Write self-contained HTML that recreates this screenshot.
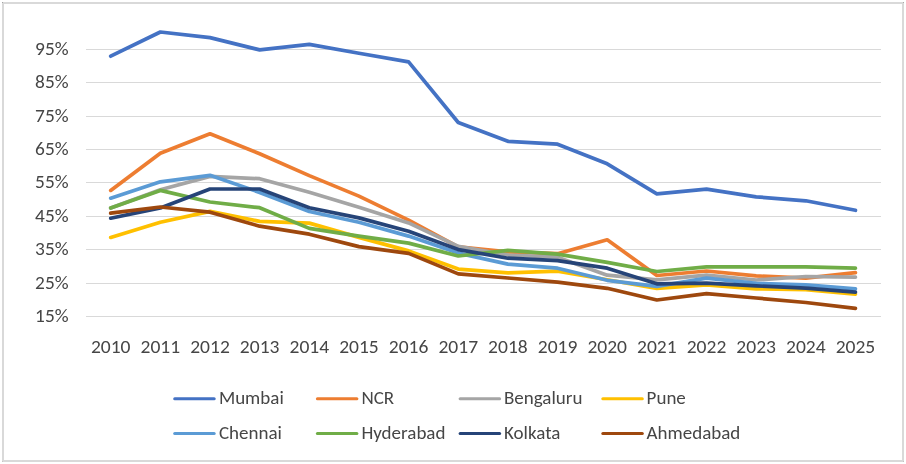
<!DOCTYPE html>
<html><head><meta charset="utf-8"><title>Chart</title>
<style>
html,body{margin:0;padding:0;background:#fff;}
svg{display:block;will-change:transform;}
text{font-family:Carlito, 'Liberation Sans', sans-serif;font-size:19px;fill:#464646;}
</style></head>
<body>
<svg width="906" height="464" viewBox="0 0 906 464">
<rect x="3" y="3" width="900" height="458" fill="#fff" stroke="#d9d9d9" stroke-width="2"/>
<rect x="2" y="2" width="1" height="1" fill="#a3a3a3"/>
<rect x="903" y="2" width="1" height="1" fill="#a8a8a8"/>
<rect x="2" y="461" width="1" height="1" fill="#c6c6c6"/>
<rect x="903" y="461" width="1" height="1" fill="#c2c2c2"/>
<line x1="86" y1="49.5" x2="881" y2="49.5" stroke="#d9d9d9" stroke-width="1"/>
<line x1="86" y1="82.5" x2="881" y2="82.5" stroke="#d9d9d9" stroke-width="1"/>
<line x1="86" y1="116.5" x2="881" y2="116.5" stroke="#d9d9d9" stroke-width="1"/>
<line x1="86" y1="149.5" x2="881" y2="149.5" stroke="#d9d9d9" stroke-width="1"/>
<line x1="86" y1="182.5" x2="881" y2="182.5" stroke="#d9d9d9" stroke-width="1"/>
<line x1="86" y1="216.5" x2="881" y2="216.5" stroke="#d9d9d9" stroke-width="1"/>
<line x1="86" y1="249.5" x2="881" y2="249.5" stroke="#d9d9d9" stroke-width="1"/>
<line x1="86" y1="283.5" x2="881" y2="283.5" stroke="#d9d9d9" stroke-width="1"/>
<line x1="86" y1="316.5" x2="881" y2="316.5" stroke="#d9d9d9" stroke-width="1"/>
<text transform="translate(68.6,55) scale(1.02,1)" text-anchor="end" textLength="32.84" lengthAdjust="spacingAndGlyphs">95%</text>
<text transform="translate(68.6,88) scale(1.02,1)" text-anchor="end" textLength="32.84" lengthAdjust="spacingAndGlyphs">85%</text>
<text transform="translate(68.6,122) scale(1.02,1)" text-anchor="end" textLength="32.84" lengthAdjust="spacingAndGlyphs">75%</text>
<text transform="translate(68.6,155) scale(1.02,1)" text-anchor="end" textLength="32.84" lengthAdjust="spacingAndGlyphs">65%</text>
<text transform="translate(68.6,188) scale(1.02,1)" text-anchor="end" textLength="32.84" lengthAdjust="spacingAndGlyphs">55%</text>
<text transform="translate(68.6,222) scale(1.02,1)" text-anchor="end" textLength="32.84" lengthAdjust="spacingAndGlyphs">45%</text>
<text transform="translate(68.6,255) scale(1.02,1)" text-anchor="end" textLength="32.84" lengthAdjust="spacingAndGlyphs">35%</text>
<text transform="translate(68.6,289) scale(1.02,1)" text-anchor="end" textLength="32.84" lengthAdjust="spacingAndGlyphs">25%</text>
<text transform="translate(68.6,322) scale(1.02,1)" text-anchor="end" textLength="32.84" lengthAdjust="spacingAndGlyphs">15%</text>
<text transform="translate(110.70,353) scale(1.03,1)" text-anchor="middle" textLength="38.48" lengthAdjust="spacingAndGlyphs">2010</text>
<text transform="translate(160.35,353) scale(1.03,1)" text-anchor="middle" textLength="38.48" lengthAdjust="spacingAndGlyphs">2011</text>
<text transform="translate(210.00,353) scale(1.03,1)" text-anchor="middle" textLength="38.48" lengthAdjust="spacingAndGlyphs">2012</text>
<text transform="translate(259.65,353) scale(1.03,1)" text-anchor="middle" textLength="38.48" lengthAdjust="spacingAndGlyphs">2013</text>
<text transform="translate(309.30,353) scale(1.03,1)" text-anchor="middle" textLength="38.48" lengthAdjust="spacingAndGlyphs">2014</text>
<text transform="translate(358.95,353) scale(1.03,1)" text-anchor="middle" textLength="38.48" lengthAdjust="spacingAndGlyphs">2015</text>
<text transform="translate(408.60,353) scale(1.03,1)" text-anchor="middle" textLength="38.48" lengthAdjust="spacingAndGlyphs">2016</text>
<text transform="translate(458.25,353) scale(1.03,1)" text-anchor="middle" textLength="38.48" lengthAdjust="spacingAndGlyphs">2017</text>
<text transform="translate(507.90,353) scale(1.03,1)" text-anchor="middle" textLength="38.48" lengthAdjust="spacingAndGlyphs">2018</text>
<text transform="translate(557.55,353) scale(1.03,1)" text-anchor="middle" textLength="38.48" lengthAdjust="spacingAndGlyphs">2019</text>
<text transform="translate(607.20,353) scale(1.03,1)" text-anchor="middle" textLength="38.48" lengthAdjust="spacingAndGlyphs">2020</text>
<text transform="translate(656.85,353) scale(1.03,1)" text-anchor="middle" textLength="38.48" lengthAdjust="spacingAndGlyphs">2021</text>
<text transform="translate(706.50,353) scale(1.03,1)" text-anchor="middle" textLength="38.48" lengthAdjust="spacingAndGlyphs">2022</text>
<text transform="translate(756.15,353) scale(1.03,1)" text-anchor="middle" textLength="38.48" lengthAdjust="spacingAndGlyphs">2023</text>
<text transform="translate(805.80,353) scale(1.03,1)" text-anchor="middle" textLength="38.48" lengthAdjust="spacingAndGlyphs">2024</text>
<text transform="translate(855.45,353) scale(1.03,1)" text-anchor="middle" textLength="38.48" lengthAdjust="spacingAndGlyphs">2025</text>
<polyline points="110.70,56.20 160.35,32.00 210.00,37.60 259.65,49.90 309.30,44.40 358.95,53.20 408.60,61.90 458.25,122.50 507.90,141.30 557.55,144.20 607.20,163.80 656.85,193.80 706.50,189.10 756.15,196.80 805.80,200.80 855.45,210.30" fill="none" stroke="#4472C4" stroke-width="3.7" stroke-linejoin="round" stroke-linecap="round"/>
<polyline points="110.70,190.40 160.35,153.30 210.00,133.80 259.65,153.80 309.30,175.60 358.95,196.10 408.60,220.10 458.25,246.90 507.90,251.90 557.55,253.70 607.20,239.80 656.85,275.50 706.50,271.00 756.15,275.90 805.80,278.10 855.45,272.70" fill="none" stroke="#ED7D31" stroke-width="3.7" stroke-linejoin="round" stroke-linecap="round"/>
<polyline points="110.70,208.00 160.35,189.70 210.00,176.40 259.65,178.70 309.30,192.30 358.95,207.20 408.60,222.90 458.25,246.40 507.90,255.00 557.55,257.20 607.20,275.20 656.85,279.80 706.50,275.20 756.15,280.00 805.80,276.50 855.45,277.20" fill="none" stroke="#A5A5A5" stroke-width="3.7" stroke-linejoin="round" stroke-linecap="round"/>
<polyline points="110.70,237.40 160.35,222.30 210.00,211.40 259.65,221.40 309.30,223.10 358.95,237.40 408.60,250.90 458.25,269.10 507.90,272.90 557.55,271.10 607.20,279.80 656.85,288.40 706.50,284.80 756.15,288.80 805.80,289.70 855.45,294.20" fill="none" stroke="#FFC000" stroke-width="3.7" stroke-linejoin="round" stroke-linecap="round"/>
<polyline points="110.70,198.20 160.35,181.80 210.00,175.30 259.65,192.40 309.30,211.50 358.95,222.20 408.60,236.10 458.25,253.10 507.90,264.10 557.55,268.20 607.20,280.30 656.85,286.40 706.50,278.10 756.15,283.40 805.80,284.80 855.45,288.90" fill="none" stroke="#5B9BD5" stroke-width="3.7" stroke-linejoin="round" stroke-linecap="round"/>
<polyline points="110.70,208.00 160.35,190.40 210.00,202.00 259.65,207.70 309.30,228.40 358.95,236.10 408.60,243.10 458.25,256.00 507.90,250.40 557.55,254.10 607.20,262.30 656.85,271.50 706.50,266.90 756.15,266.90 805.80,266.90 855.45,268.20" fill="none" stroke="#70AD47" stroke-width="3.7" stroke-linejoin="round" stroke-linecap="round"/>
<polyline points="110.70,218.20 160.35,207.90 210.00,189.00 259.65,189.00 309.30,207.70 358.95,217.90 408.60,231.20 458.25,249.60 507.90,258.20 557.55,260.70 607.20,268.20 656.85,283.80 706.50,283.10 756.15,285.90 805.80,288.10 855.45,292.20" fill="none" stroke="#264478" stroke-width="3.7" stroke-linejoin="round" stroke-linecap="round"/>
<polyline points="110.70,213.20 160.35,207.00 210.00,212.20 259.65,226.20 309.30,234.20 358.95,246.60 408.60,253.40 458.25,273.90 507.90,278.00 557.55,282.10 607.20,288.30 656.85,300.00 706.50,293.70 756.15,298.00 805.80,302.50 855.45,308.30" fill="none" stroke="#9E480E" stroke-width="3.7" stroke-linejoin="round" stroke-linecap="round"/>
<line x1="174.7" y1="398.7" x2="214.2" y2="398.7" stroke="#4472C4" stroke-width="3" stroke-linecap="round"/>
<text x="218.9" y="404.0" textLength="64.86" lengthAdjust="spacingAndGlyphs">Mumbai</text>
<line x1="317.4" y1="398.7" x2="356.9" y2="398.7" stroke="#ED7D31" stroke-width="3" stroke-linecap="round"/>
<text x="361.4" y="404.0" textLength="32.72" lengthAdjust="spacingAndGlyphs">NCR</text>
<line x1="460.1" y1="398.7" x2="499.6" y2="398.7" stroke="#A5A5A5" stroke-width="3" stroke-linecap="round"/>
<text x="504.0" y="404.0" textLength="78.42" lengthAdjust="spacingAndGlyphs">Bengaluru</text>
<line x1="602.8" y1="398.7" x2="642.3" y2="398.7" stroke="#FFC000" stroke-width="3" stroke-linecap="round"/>
<text x="646.6" y="404.0" textLength="39.23" lengthAdjust="spacingAndGlyphs">Pune</text>
<line x1="174.7" y1="433.6" x2="214.2" y2="433.6" stroke="#5B9BD5" stroke-width="3" stroke-linecap="round"/>
<text x="218.9" y="438.5" textLength="63.0" lengthAdjust="spacingAndGlyphs">Chennai</text>
<line x1="317.4" y1="433.6" x2="356.9" y2="433.6" stroke="#70AD47" stroke-width="3" stroke-linecap="round"/>
<text x="361.4" y="438.5" textLength="84.06" lengthAdjust="spacingAndGlyphs">Hyderabad</text>
<line x1="460.1" y1="433.6" x2="499.6" y2="433.6" stroke="#264478" stroke-width="3" stroke-linecap="round"/>
<text x="504.0" y="438.5" textLength="56.39" lengthAdjust="spacingAndGlyphs">Kolkata</text>
<line x1="602.8" y1="433.6" x2="642.3" y2="433.6" stroke="#9E480E" stroke-width="3" stroke-linecap="round"/>
<text x="646.6" y="438.5" textLength="93.77" lengthAdjust="spacingAndGlyphs">Ahmedabad</text>
</svg>
</body></html>
